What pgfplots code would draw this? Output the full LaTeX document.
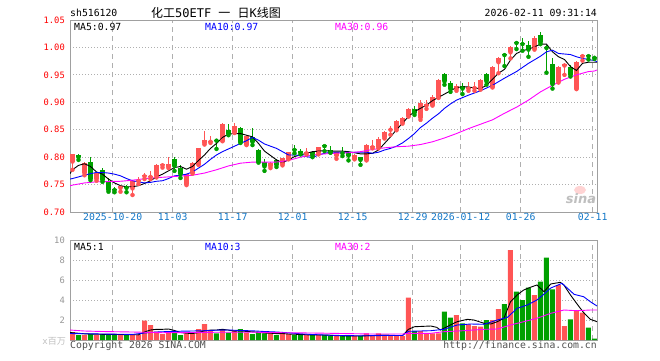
\documentclass[border=0pt]{standalone}
\usepackage{fontspec}
\setmainfont{DejaVu Sans Mono}
\setmonofont{DejaVu Sans Mono}
\newfontfamily\cjk{Noto Sans CJK SC}
\newfontfamily\sinaf{DejaVu Sans}
\usepackage{pgfplots}
\usepackage{pgfplotstable}
\pgfplotsset{compat=1.18}
\definecolor{cred}{RGB}{255,85,85}
\definecolor{cgreen}{RGB}{0,160,0}
\definecolor{bordergray}{RGB}{160,160,160}
\definecolor{gridgray}{RGB}{175,175,175}
\definecolor{tickblue}{RGB}{20,120,200}
\definecolor{volgray}{RGB}{150,150,150}
\definecolor{mablue}{RGB}{0,0,255}
\definecolor{mamag}{RGB}{255,0,255}
\definecolor{copygray}{RGB}{80,80,80}
\newcommand\fs[1]{\fontsize{#1}{#1}\selectfont}

\pgfplotstableread{
i o h l c v
0 0.792 0.806 0.777 0.806 0.80
2 0.771 0.792 0.767 0.789 0.50
4 0.760 0.773 0.757 0.771 0.50
8 0.744 0.749 0.737 0.748 0.50
10 0.743 0.758 0.731 0.757 0.57
11 0.756 0.763 0.751 0.758 0.50
12 0.765 0.771 0.760 0.767 1.93
13 0.764 0.774 0.760 0.766 1.50
14 0.765 0.787 0.763 0.786 0.83
15 0.785 0.790 0.781 0.787 0.60
16 0.782 0.801 0.780 0.788 0.83
19 0.751 0.770 0.749 0.770 0.67
20 0.772 0.791 0.770 0.790 0.67
21 0.787 0.817 0.786 0.816 1.10
22 0.825 0.848 0.823 0.832 1.60
23 0.828 0.839 0.826 0.830 0.90
25 0.830 0.862 0.829 0.860 1.07
27 0.845 0.862 0.844 0.857 1.00
29 0.823 0.841 0.822 0.839 0.73
33 0.783 0.792 0.780 0.790 0.67
35 0.787 0.799 0.785 0.798 0.67
36 0.797 0.810 0.796 0.809 0.60
39 0.807 0.817 0.805 0.810 0.50
41 0.807 0.819 0.805 0.818 0.50
44 0.803 0.810 0.797 0.809 0.40
47 0.797 0.805 0.796 0.804 0.40
49 0.795 0.824 0.794 0.822 0.67
50 0.818 0.832 0.816 0.820 0.40
51 0.818 0.836 0.816 0.833 0.67
52 0.836 0.847 0.834 0.845 0.40
53 0.850 0.857 0.841 0.852 0.40
54 0.851 0.867 0.849 0.865 0.40
55 0.863 0.873 0.861 0.872 0.40
56 0.875 0.890 0.874 0.888 4.23
58 0.872 0.904 0.868 0.899 0.90
59 0.894 0.904 0.888 0.896 0.67
60 0.895 0.913 0.894 0.909 0.67
61 0.909 0.942 0.908 0.941 0.67
64 0.924 0.934 0.921 0.930 2.50
66 0.925 0.937 0.921 0.927 1.57
67 0.926 0.937 0.921 0.928 1.40
68 0.925 0.943 0.923 0.940 1.33
70 0.928 0.966 0.927 0.965 2.00
71 0.973 0.983 0.953 0.981 3.10
73 0.991 1.002 0.980 1.001 9.00
77 0.998 1.021 0.996 1.017 4.50
81 0.938 0.966 0.936 0.965 5.50
82 0.967 0.972 0.950 0.969 1.40
84 0.925 0.976 0.924 0.974 2.93
85 0.984 0.988 0.976 0.986 2.73
}\redtab

\pgfplotstableread{
i o h l c v
1 0.804 0.805 0.795 0.800 0.50
3 0.791 0.800 0.758 0.761 0.60
5 0.777 0.781 0.755 0.758 0.60
6 0.755 0.762 0.737 0.740 0.60
7 0.741 0.746 0.736 0.740 0.50
9 0.745 0.750 0.736 0.744 0.50
17 0.797 0.800 0.775 0.784 0.77
18 0.781 0.786 0.762 0.769 0.50
24 0.832 0.832 0.815 0.830 0.67
26 0.849 0.860 0.840 0.843 0.73
28 0.854 0.855 0.826 0.827 1.10
30 0.836 0.853 0.822 0.828 0.60
31 0.813 0.814 0.790 0.792 0.73
32 0.792 0.797 0.775 0.783 0.67
34 0.795 0.797 0.782 0.786 0.50
37 0.815 0.823 0.807 0.813 0.50
38 0.812 0.814 0.805 0.808 0.50
40 0.809 0.811 0.800 0.803 0.50
42 0.821 0.822 0.811 0.820 0.50
43 0.813 0.820 0.808 0.809 0.40
45 0.810 0.818 0.802 0.807 0.40
46 0.809 0.810 0.794 0.803 0.40
48 0.800 0.801 0.786 0.795 0.40
57 0.888 0.893 0.877 0.881 0.90
62 0.951 0.954 0.932 0.938 2.83
63 0.936 0.938 0.919 0.924 2.23
65 0.930 0.935 0.915 0.925 1.67
69 0.951 0.954 0.932 0.938 2.00
72 0.988 0.988 0.966 0.986 3.60
74 1.010 1.012 0.997 1.008 4.83
75 1.008 1.018 0.994 1.006 4.00
76 1.004 1.012 0.983 0.996 5.23
78 1.023 1.029 1.006 1.009 5.83
79 1.001 1.005 0.954 0.999 8.23
80 0.969 0.981 0.925 0.933 5.07
83 0.964 0.968 0.947 0.950 2.07
86 0.986 0.986 0.978 0.984 1.23
87 0.982 0.984 0.979 0.981 0.13
}\greentab

\pgfplotsset{
  kbase/.style={
    scale only axis, width=527pt,
    xmin=-0.417, xmax=87.42,
    axis line style={draw=bordergray, line width=1pt},
    major tick length=0pt,
    xtick={6.7,16.7,26.7,36.7,46.7,56.7,64.7,74.7,86.7},
    xmajorgrids, ymajorgrids,
    x grid style={draw=gridgray, line width=0.9pt, dash pattern=on 5pt off 4pt},
    y grid style={draw=gridgray, line width=0.8pt, dash pattern=on 1pt off 2pt},
  },
  wick/.style={only marks, mark=none, forget plot,
    error bars/.cd, y dir=plus, y explicit, error mark=none,
    error bar style={line width=1pt, solid}},
  body/.style={only marks, mark=none, forget plot,
    error bars/.cd, y dir=plus, y explicit, error mark=none,
    error bar style={line width=5pt, solid}},
}

\begin{document}
\begin{tikzpicture}
\useasboundingbox (0pt,-360pt) rectangle (660pt,0pt);

\begin{axis}[kbase,
  at={(70pt,-20pt)}, anchor=north west, height=192pt,
  ymin=0.70, ymax=1.05,
  ytick={0.70,0.75,0.80,0.85,0.90,0.95,1.00,1.05},
  yticklabels={0.70,0.75,0.80,0.85,0.90,0.95,1.00,1.05},
  xticklabels={2025-10-20,11-03,11-17,12-01,12-15,12-29,2026-01-12,01-26,02-11},
  xticklabel style={font=\fs{9.8}, text=tickblue, inner sep=1pt},
  yticklabel style={font=\fs{8.8}, text=red, inner sep=0pt, xshift=-5pt},
]
\addplot[cred, wick] table[x=i, y=l, y error plus expr={\thisrow{h}-\thisrow{l}}] {\redtab};
\addplot[cgreen, wick] table[x=i, y=l, y error plus expr={\thisrow{h}-\thisrow{l}}] {\greentab};
\addplot[cred, body] table[x=i, y=o, y error plus expr={max(\thisrow{c}-\thisrow{o},0.0018)}] {\redtab};
\addplot[cgreen, body] table[x=i, y=c, y error plus expr={max(\thisrow{o}-\thisrow{c},0.0018)}] {\greentab};

% MA5
\addplot[black, line width=0.9pt, mark=none] coordinates {
(-0.42,0.770) (0,0.777) (1,0.785) (2,0.788) (3,0.783) (4,0.773) (5,0.769) (6,0.760) (7,0.753) (8,0.748) (9,0.746) (10,0.746) (11,0.748) (12,0.752) (13,0.757) (14,0.764) (15,0.769) (16,0.775) (17,0.781) (18,0.783) (19,0.778) (20,0.783) (21,0.794) (22,0.804) (23,0.816) (24,0.825) (25,0.836) (26,0.842) (27,0.843) (28,0.843) (29,0.840) (30,0.837) (31,0.825) (32,0.811) (33,0.803) (34,0.795) (35,0.790) (36,0.795) (37,0.801) (38,0.804) (39,0.807) (40,0.810) (41,0.811) (42,0.812) (43,0.811) (44,0.811) (45,0.811) (46,0.810) (47,0.808) (48,0.806) (49,0.806) (50,0.807) (51,0.813) (52,0.825) (53,0.837) (54,0.850) (55,0.862) (56,0.874) (57,0.883) (58,0.889) (59,0.895) (60,0.903) (61,0.909) (62,0.915) (63,0.921) (64,0.927) (65,0.928) (66,0.928) (67,0.926) (68,0.925) (69,0.931) (70,0.942) (71,0.953) (72,0.960) (73,0.977) (74,0.989) (75,0.994) (76,0.997) (77,1.001) (78,1.006) (79,1.006) (80,0.992) (81,0.983) (82,0.978) (83,0.965) (84,0.958) (85,0.971) (86,0.973) (87,0.973) (87.42,0.973)
};
% MA10
\addplot[mablue, line width=0.9pt, mark=none] coordinates {
(-0.42,0.760) (0,0.761) (1,0.764) (2,0.767) (3,0.770) (4,0.772) (5,0.772) (6,0.771) (7,0.769) (8,0.766) (9,0.761) (10,0.757) (11,0.755) (12,0.753) (13,0.754) (14,0.756) (15,0.757) (16,0.761) (17,0.766) (18,0.767) (19,0.769) (20,0.773) (21,0.780) (22,0.787) (23,0.796) (24,0.804) (25,0.810) (26,0.815) (27,0.820) (28,0.825) (29,0.830) (30,0.836) (31,0.831) (32,0.824) (33,0.820) (34,0.816) (35,0.810) (36,0.804) (37,0.804) (38,0.803) (39,0.801) (40,0.799) (41,0.804) (42,0.807) (43,0.809) (46,0.809) (49,0.809) (50,0.807) (51,0.809) (52,0.813) (53,0.816) (54,0.820) (55,0.826) (56,0.834) (57,0.843) (58,0.854) (59,0.862) (60,0.871) (61,0.879) (62,0.889) (63,0.897) (64,0.904) (66,0.913) (68,0.921) (70,0.931) (72,0.944) (74,0.956) (76,0.971) (78,0.984) (79,0.992) (80,0.995) (81,0.989) (82,0.988) (83,0.987) (84,0.983) (85,0.980) (86,0.978) (87,0.976) (87.42,0.974)
};
% MA30
\addplot[mamag, line width=0.9pt, mark=none] coordinates {
(-0.42,0.748) (0,0.749) (2,0.753) (4,0.755) (8,0.756) (10,0.758) (13,0.762) (16,0.764) (20,0.767) (22,0.771) (24,0.777) (26,0.784) (28,0.789) (30,0.791) (34,0.791) (36,0.794) (38,0.800) (40,0.804) (42,0.806) (44,0.807) (46,0.808) (48,0.810) (50,0.814) (52,0.817) (54,0.819) (56,0.820) (58,0.823) (60,0.828) (62,0.835) (64,0.843) (66,0.852) (68,0.860) (70,0.868) (72,0.880) (74,0.891) (76,0.904) (78,0.919) (80,0.931) (82,0.942) (84,0.950) (86,0.956) (87,0.957) (87.42,0.959)
};
\end{axis}

\begin{axis}[kbase,
  at={(70pt,-240pt)}, anchor=north west, height=100pt,
  ymin=0, ymax=10,
  ytick={2,4,6,8,10},
  yticklabels={2,4,6,8,10},
  xticklabels={},
  yticklabel style={font=\fs{8.8}, text=volgray, inner sep=0pt, xshift=-5pt},
]
\addplot[ybar, bar width=5pt, bar shift=0pt, fill=cred, draw=none, forget plot] table[x=i, y=v] {\redtab};
\addplot[ybar, bar width=5pt, bar shift=0pt, fill=cgreen, draw=none, forget plot] table[x=i, y=v] {\greentab};
\addplot[black, line width=0.9pt, mark=none] coordinates {
(-0.42,0.75) (2,0.62) (5,0.57) (8,0.55) (11,0.52) (12,0.80) (13,1.00) (14,1.07) (15,1.07) (16,1.10) (17,0.95) (18,0.75) (19,0.68) (20,0.65) (21,0.75) (22,0.92) (23,0.99) (24,1.00) (25,1.07) (26,0.99) (27,0.88) (28,0.93) (29,0.85) (30,0.82) (31,0.78) (32,0.70) (33,0.68) (34,0.64) (35,0.65) (36,0.60) (37,0.58) (38,0.55) (40,0.50) (42,0.50) (44,0.44) (46,0.40) (48,0.40) (50,0.45) (52,0.50) (54,0.45) (55,0.45) (56,1.07) (57,1.33) (59.7,1.40) (60.7,1.27) (61.3,1.00) (62.4,1.33) (64.1,1.83) (65.8,2.07) (66.9,2.00) (68.6,1.67) (69.7,1.60) (70.8,1.83) (71.9,2.17) (73,3.83) (74.1,4.50) (75.2,5.00) (76.3,5.27) (77.4,5.50) (78.6,4.83) (79.7,5.60) (81.3,5.77) (81.9,5.50) (83,4.50) (84.1,3.60) (85.2,2.73) (86.3,2.07) (87.42,1.83)
};
\addplot[mablue, line width=0.9pt, mark=none] coordinates {
(-0.42,0.65) (5,0.60) (10,0.56) (12,0.70) (14,0.80) (16,0.85) (18,0.88) (20,0.90) (22,0.93) (24,0.98) (26,1.00) (28,0.95) (30,0.92) (32,0.85) (34,0.80) (36,0.72) (38,0.62) (40,0.55) (42,0.50) (44,0.46) (46,0.44) (48,0.42) (52,0.45) (55,0.45) (56,0.87) (59.7,0.93) (61.9,1.07) (64.1,1.50) (66.4,1.60) (68.6,1.57) (70.8,2.00) (72.5,2.27) (74.1,3.17) (75.8,3.50) (77.4,4.00) (78.6,4.60) (79.7,5.20) (81.6,5.67) (83.6,4.57) (85.2,4.33) (86.3,3.83) (87.42,3.40)
};
\addplot[mamag, line width=0.9pt, mark=none] coordinates {
(-0.42,1.00) (2,0.90) (5,0.85) (10,0.80) (15,0.73) (20,0.75) (25,0.78) (30,0.78) (35,0.73) (40,0.70) (45,0.65) (50,0.60) (55,0.60) (56,0.67) (59.7,0.67) (61.9,0.83) (65.2,0.93) (68.6,1.07) (70.8,1.10) (73,1.50) (75.2,1.83) (77.4,2.17) (79.7,2.67) (81.9,3.00) (84.1,2.93) (86.3,3.00) (87.42,3.00)
};
\end{axis}

% texts
\node[anchor=west, inner sep=0pt, font=\fs{9.8}] at (70pt,-13pt) {sh516120};
\node[inner sep=0pt, font=\fs{12}] at (216pt,-13pt) {{\cjk 化工}50ETF {\cjk 一} {\cjk 日}K{\cjk 线图}};
\node[anchor=east, inner sep=0pt, font=\fs{9.8}] at (597pt,-13pt) {2026-02-11 09:31:14};
\node[anchor=west, inner sep=0pt, font=\fs{9.8}, text=black] at (74pt,-26.5pt) {MA5:0.97};
\node[anchor=west, inner sep=0pt, font=\fs{9.8}, text=mablue] at (205pt,-26.5pt) {MA10:0.97};
\node[anchor=west, inner sep=0pt, font=\fs{9.8}, text=mamag] at (335pt,-26.5pt) {MA30:0.96};
\node[anchor=west, inner sep=0pt, font=\fs{9.8}, text=black] at (74pt,-246.5pt) {MA5:1};
\node[anchor=west, inner sep=0pt, font=\fs{9.8}, text=mablue] at (205pt,-246.5pt) {MA10:3};
\node[anchor=west, inner sep=0pt, font=\fs{9.8}, text=mamag] at (335pt,-246.5pt) {MA30:2};
\node[anchor=west, inner sep=0pt, font=\fs{9.8}, text=copygray] at (70pt,-346pt) {Copyright 2026 SINA.COM};
\node[anchor=east, inner sep=0pt, font=\fs{9.8}, text=copygray] at (597pt,-346pt) {http://finance.sina.com.cn};
\node[anchor=east, inner sep=0pt, font=\fs{9}, text=black!25] at (66pt,-341pt) {x{\cjk 百万}};
\fill[cred!25] (580pt,-190pt) ellipse (6pt and 4pt);
\node[inner sep=0pt, font=\sinaf\bfseries\itshape\fs{13}, text=black!25] at (581pt,-199pt) {sina};
\end{tikzpicture}
\end{document}
